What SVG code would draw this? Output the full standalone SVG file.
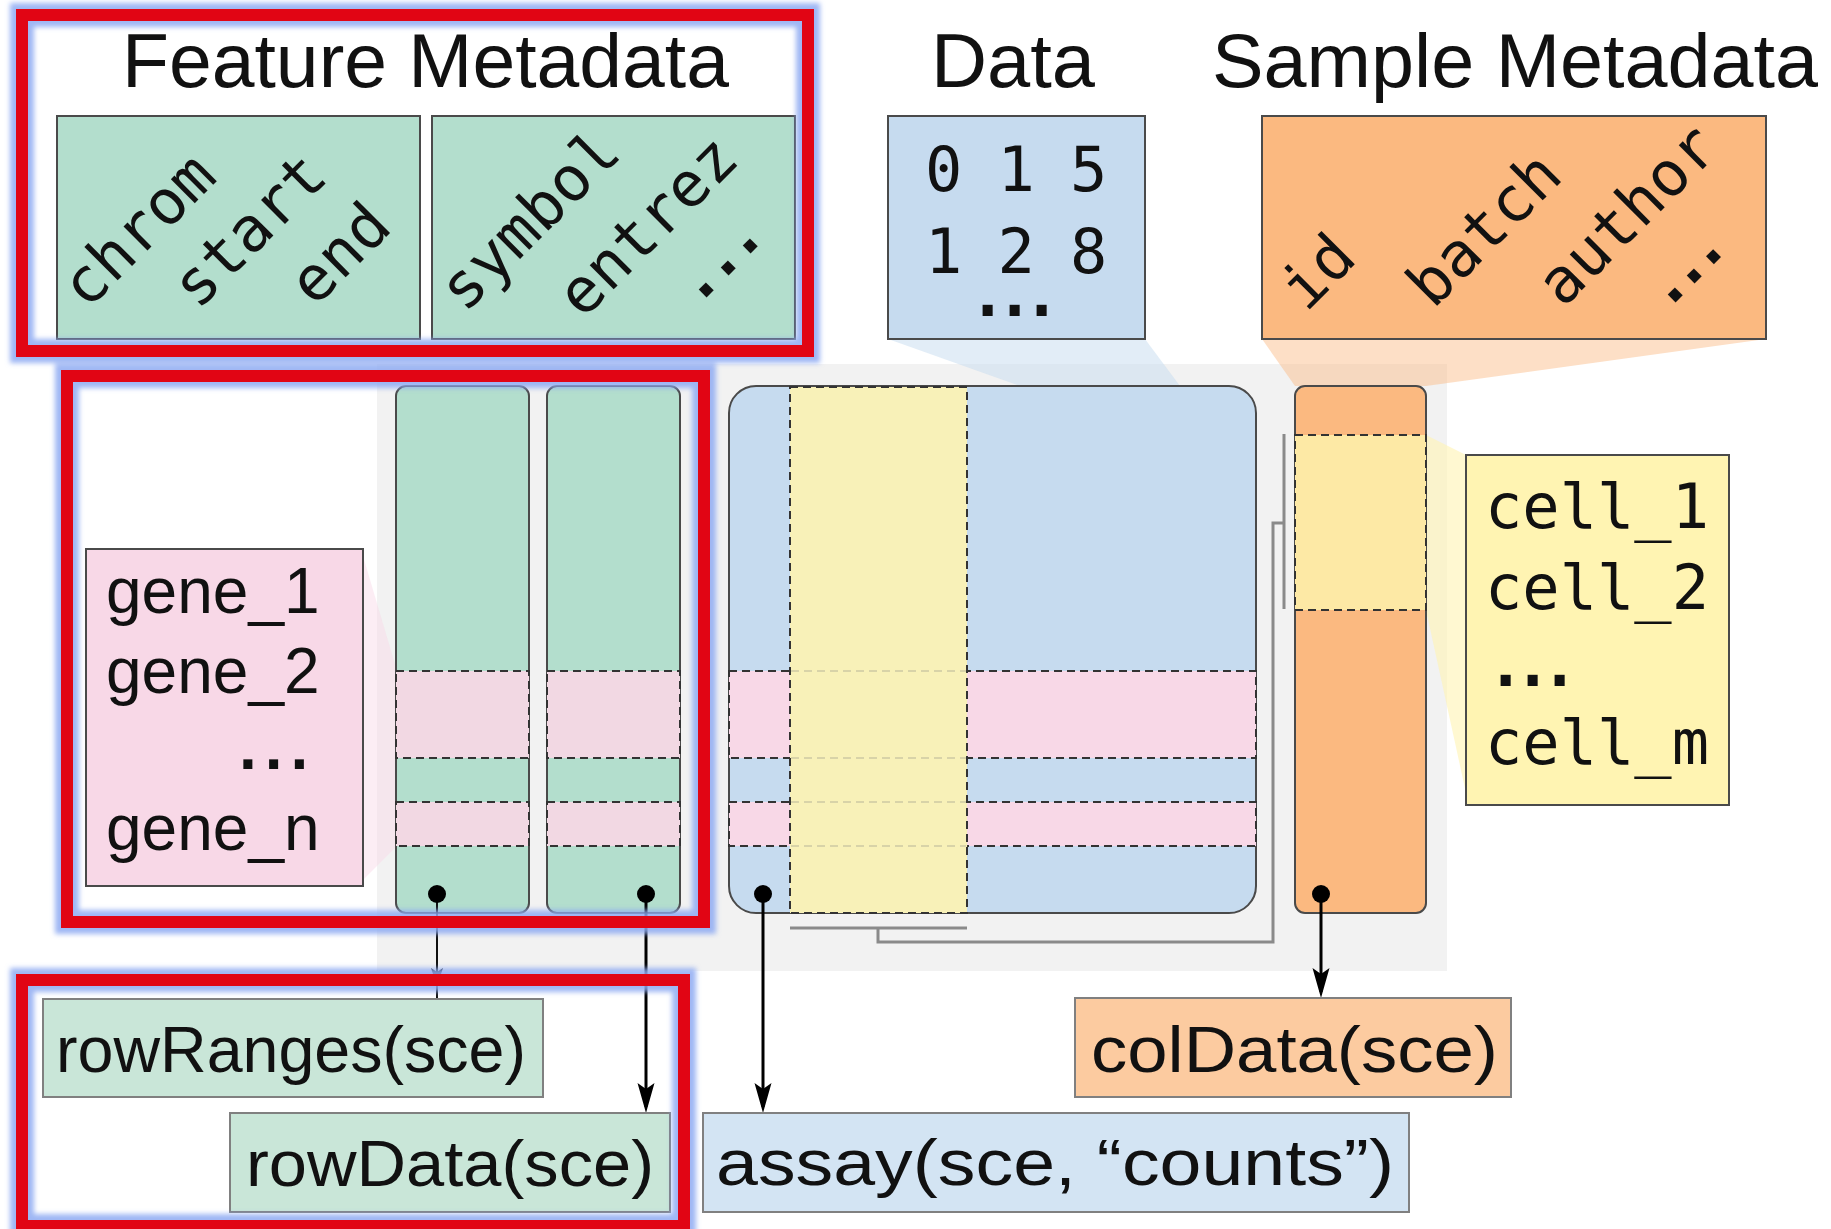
<svg xmlns="http://www.w3.org/2000/svg" width="1831" height="1229" viewBox="0 0 1831 1229">
<defs>
<style>
.mono{font-family:"DejaVu Sans Mono","Liberation Mono",monospace;font-size:62px;fill:#111}
.monob{font-family:"DejaVu Sans Mono","Liberation Mono",monospace;font-size:62px;font-weight:bold;fill:#111}
.title{font-family:"Liberation Sans",Arial,sans-serif;font-size:76px;fill:#111}
.sans{font-family:"Liberation Sans",Arial,sans-serif;font-size:64px;fill:#111}
.sansb{font-family:"Liberation Sans",Arial,sans-serif;font-size:64px;font-weight:bold;fill:#111}
.box{stroke:#4a4a4a;stroke-width:2}
.lbl{stroke:#808080;stroke-width:2}
.dash{stroke:#333;stroke-width:2;stroke-dasharray:8 5}
.faintdash{stroke:#d8d3a8;stroke-width:2;stroke-dasharray:8 5;fill:none}
.green{fill:#b3decd}
.lgreen{fill:#c9e6d8}
.blue{fill:#c6dbef}
.lblue{fill:#d3e4f3}
.orange{fill:#fbb980}
.lorange{fill:#fccba0}
.pink{fill:#f8d8e7}
.pinkband{fill:#f2d8e3}
.yellow{fill:#fff4b2}
.grey{stroke:#8a8a8a;stroke-width:3;fill:none}
.conn{stroke:#000;stroke-width:3;fill:none}
.red{fill:none;stroke:#e10514;stroke-width:12}
.glow{fill:none;stroke:#8eaaf2;stroke-width:24;opacity:0.85}
</style>
<marker id="arrow" markerUnits="userSpaceOnUse" viewBox="-26 -10 34 20" refX="0" refY="0" markerWidth="34" markerHeight="20" orient="auto">
<path d="M6,0 L-24,-8.5 L-18,0 L-24,8.5 Z" fill="#000"/>
</marker>
<marker id="arrowSmall" markerUnits="userSpaceOnUse" viewBox="-16 -8 22 16" refX="0" refY="0" markerWidth="22" markerHeight="16" orient="auto">
<path d="M4,0 L-14,-6 L-10,0 L-14,6 Z" fill="#111"/>
</marker>
<filter id="blur" x="-5%" y="-5%" width="110%" height="110%">
<feGaussianBlur stdDeviation="2.5"/>
</filter>
</defs>
<rect width="1831" height="1229" fill="#fff"/>

<g id="background">
<rect x="377" y="364" width="1070" height="607" fill="#f2f2f2"/>
<polygon points="888,339 1145,339 1180,386 1020,386" fill="#c6dbef" opacity="0.5"/>
<polygon points="1262,339 1766,339 1426,386 1295,386" fill="#fbb980" opacity="0.45"/>
<polygon points="363,556 397,671 397,846 363,880" fill="#f8d8e7" opacity="0.45"/>
<polygon points="1426,435 1466,455 1466,793 1426,610" fill="#fff4b2" opacity="0.6"/>
</g>

<g id="titles">
<text class="title" x="122" y="87" textLength="607" lengthAdjust="spacingAndGlyphs">Feature Metadata</text>
<text class="title" x="931" y="87" textLength="164" lengthAdjust="spacingAndGlyphs">Data</text>
<text class="title" x="1212" y="87" textLength="606" lengthAdjust="spacingAndGlyphs">Sample Metadata</text>
</g>

<g id="feature-metadata-1">
<rect class="green box" x="57" y="116" width="363" height="223"/>
<text class="mono" x="87" y="311" transform="rotate(-45 87 311)">chrom</text>
<text class="mono" x="198" y="311" transform="rotate(-45 198 311)">start</text>
<text class="mono" x="315" y="308" transform="rotate(-45 315 308)">end</text>
</g>

<g id="feature-metadata-2">
<rect class="green box" x="432" y="116" width="363" height="223"/>
<text class="mono" x="465" y="314" transform="rotate(-45 465 314)">symbol</text>
<text class="mono" x="583" y="320" transform="rotate(-45 583 320)">entrez</text>
<text class="monob" x="697" y="307" letter-spacing="-6.3" transform="rotate(-45 697 307)">...</text>
</g>

<g id="data">
<rect class="blue box" x="888" y="116" width="257" height="223"/>
<text class="mono" letter-spacing="-1.1"><tspan x="925" y="191">0 1 5</tspan><tspan x="925" y="273">1 2 8</tspan><tspan class="monob" x="969" y="316" letter-spacing="-10.3" font-weight="bold">...</tspan></text>
</g>

<g id="sample-metadata">
<rect class="orange box" x="1262" y="116" width="504" height="223"/>
<text class="mono" x="1306" y="313" transform="rotate(-45 1306 313)">id</text>
<text class="mono" x="1433" y="310" transform="rotate(-45 1433 310)">batch</text>
<text class="mono" x="1563" y="309" transform="rotate(-45 1563 309)">author</text>
<text class="monob" x="1666" y="312" letter-spacing="-10.3" transform="rotate(-45 1666 312)">...</text>
</g>

<g id="row-column-1">
<rect class="green box" x="396" y="386" width="133" height="527" rx="10"/>
<rect class="pinkband dash" x="396" y="671" width="133" height="87"/>
<rect class="pinkband dash" x="396" y="802" width="133" height="44"/>
</g>

<g id="row-column-2">
<rect class="green box" x="547" y="386" width="133" height="527" rx="10"/>
<rect class="pinkband dash" x="547" y="671" width="133" height="87"/>
<rect class="pinkband dash" x="547" y="802" width="133" height="44"/>
</g>

<g id="matrix">
<rect class="blue box" x="729" y="386" width="527" height="527" rx="27"/>
<rect class="pink dash" x="729" y="671" width="527" height="87"/>
<rect class="pink dash" x="729" y="802" width="527" height="44"/>
<rect x="790" y="387" width="177" height="526" fill="#f8f1b8" stroke="#333" stroke-width="2" stroke-dasharray="8 5"/>
<line class="faintdash" x1="791" y1="671" x2="966" y2="671"/>
<line class="faintdash" x1="791" y1="758" x2="966" y2="758"/>
<line class="faintdash" x1="791" y1="802" x2="966" y2="802"/>
<line class="faintdash" x1="791" y1="846" x2="966" y2="846"/>
</g>

<g id="sample-column">
<rect class="orange box" x="1295" y="386" width="131" height="527" rx="10"/>
<rect x="1295" y="435" width="131" height="175" fill="#fde9a5" stroke="#333" stroke-width="2" stroke-dasharray="8 5"/>
</g>

<g id="gene-names">
<rect class="pink box" x="86" y="549" width="277" height="337"/>
<text class="sans"><tspan x="106" y="613">gene_1</tspan><tspan x="106" y="693">gene_2</tspan><tspan x="239" y="769" font-weight="bold" letter-spacing="8">...</tspan><tspan x="106" y="850">gene_n</tspan></text>
</g>

<g id="cell-names">
<rect class="yellow box" x="1466" y="455" width="263" height="350"/>
<text class="mono"><tspan x="1485" y="528">cell_1</tspan><tspan x="1485" y="609">cell_2</tspan><tspan x="1487" y="686" font-weight="bold" letter-spacing="-10.3">...</tspan><tspan x="1485" y="764">cell_m</tspan></text>
</g>

<g id="brackets">
<line class="grey" x1="790" y1="928" x2="967" y2="928"/>
<path class="grey" d="M878,928 V942 H1273 V523 H1284"/>
<line class="grey" x1="1284" y1="434" x2="1284" y2="609"/>
</g>

<g id="connectors">
<path d="M437,894 V982" stroke="#111" stroke-width="2" fill="none" marker-end="url(#arrowSmall)"/>
<path d="M437,984 V999" stroke="#111" stroke-width="2" fill="none"/>
<path class="conn" d="M646,894 V1107" marker-end="url(#arrow)"/>
<path class="conn" d="M763,894 V1107" marker-end="url(#arrow)"/>
<path class="conn" d="M1321,894 V992" marker-end="url(#arrow)"/>
<circle cx="437" cy="894" r="9" fill="#000"/>
<circle cx="646" cy="894" r="9" fill="#000"/>
<circle cx="763" cy="894" r="9" fill="#000"/>
<circle cx="1321" cy="894" r="9" fill="#000"/>
</g>

<g id="rowRanges">
<rect class="lgreen lbl" x="43" y="999" width="500" height="98"/>
<text class="sans" x="56" y="1072" textLength="470" lengthAdjust="spacingAndGlyphs">rowRanges(sce)</text>
</g>

<g id="rowData">
<rect class="lgreen lbl" x="230" y="1113" width="440" height="99"/>
<text class="sans" x="246" y="1186" textLength="408" lengthAdjust="spacingAndGlyphs">rowData(sce)</text>
</g>

<g id="assay">
<rect class="lblue lbl" x="703" y="1113" width="706" height="99"/>
<text class="sans" x="716" y="1185" textLength="678" lengthAdjust="spacingAndGlyphs">assay(sce, “counts”)</text>
</g>

<g id="colData">
<rect class="lorange lbl" x="1075" y="998" width="436" height="99"/>
<text class="sans" x="1091" y="1072" textLength="407" lengthAdjust="spacingAndGlyphs">colData(sce)</text>
</g>

<g id="highlights">
<g filter="url(#blur)">
<rect class="glow" x="22" y="15" width="786" height="336"/>
<rect class="glow" x="67" y="376" width="637" height="546"/>
<rect class="glow" x="22" y="980" width="662" height="246"/>
</g>
<rect class="red" x="22" y="15" width="786" height="336"/>
<rect class="red" x="67" y="376" width="637" height="546"/>
<rect class="red" x="22" y="980" width="662" height="246"/>
</g>
</svg>
